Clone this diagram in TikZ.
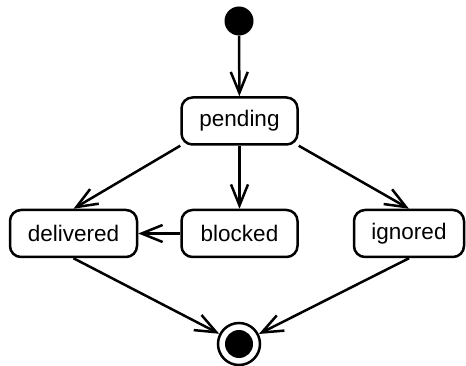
\documentclass[tikz,border=0pt]{standalone}
\usepackage{fontspec}
\setmainfont{Liberation Sans}
\usepackage{tikz}
\usetikzlibrary{arrows.meta, positioning}

\tikzset{
  statebox/.style={draw, line width=2.5pt, rounded corners=11pt, fill=white,
    minimum height=47pt, inner sep=0pt, font=\fontsize{22.5}{26}\selectfont},
  trans/.style={->, line width=2.5pt},
}

\begin{document}
\begin{tikzpicture}[x=1pt, y=-1pt, >={Straight Barb[length=21pt, width=17pt, line width=2.5pt]}]

  \useasboundingbox (0,0) rectangle (466,366);

  % Start and end
  \node[circle, fill=black, minimum size=29pt, inner sep=0pt] (start) at (239, 21) {};
  \node[circle, draw, line width=2.5pt, fill=white, minimum size=42pt, inner sep=0pt] (stop) at (239, 344) {};
  \fill (stop.center) circle (14pt);

  % States
  \node[statebox, minimum width=116pt] (pending) at (239.5, 121) {pending};
  \node[statebox, minimum width=127pt] (delivered) at (73.5, 233.5) {delivered};
  \node[statebox, minimum width=116pt] (blocked) at (239.5, 233.5) {blocked};
  \node[statebox, minimum width=110pt] (ignored) at (409, 233.5) {ignored};

  % Transitions
  \draw[trans] (start) -- (pending);
  \draw[trans] (pending.south) -- (blocked);
  \draw[trans] (pending.south west) -- (delivered.north);
  \draw[trans] (pending.south east) -- (ignored.north);
  \draw[trans] (blocked) -- (delivered);
  \draw[trans] (delivered.south) -- (stop);
  \draw[trans] (ignored.south) -- (stop);

\end{tikzpicture}
\end{document}
